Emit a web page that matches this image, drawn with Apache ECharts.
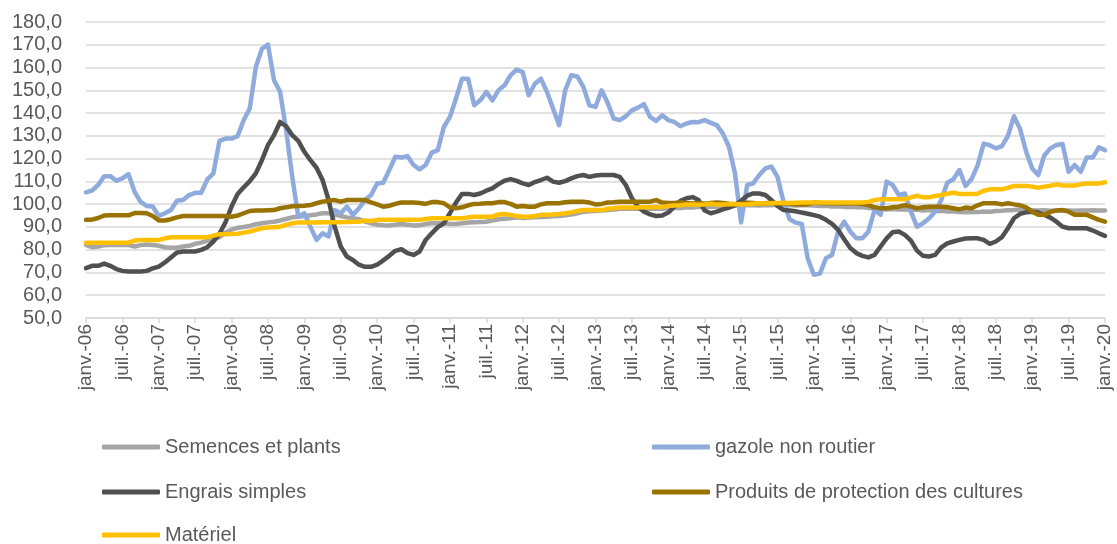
<!DOCTYPE html>
<html lang="fr">
  <head>
    <meta charset="UTF-8" />
    <title>Indices des prix</title>
    <script src="https://cdn.jsdelivr.net/npm/echarts@6/dist/echarts.min.js"></script>
    <style>
      html,
      body {
        margin: 0;
        padding: 0;
        background: #ffffff;
      }
      #chart {
        width: 1117px;
        height: 544px;
      }
    </style>
  </head>
  <body>
    <div id="chart"></div>
    <script>
      // categories : mois de janv.-06 a janv.-20
      const monthNames = ["janv.", "févr.", "mars", "avr.", "mai", "juin", "juil.", "août", "sept.", "oct.", "nov.", "déc."];
      const years = ["06", "07", "08", "09", "10", "11", "12", "13", "14", "15", "16", "17", "18", "19", "20"];

      const semences = [
        82.1, 81.1, 81.4, 82, 82.1, 82.1, 82.1, 82.1, 81.4, 82, 82.3, 82.1, 81.7, 81.1, 80.9, 80.9, 81.4, 81.7, 82.6, 83.1, 84, 84.6, 85.5, 87.5,
        88.8, 89.6, 90, 90.4, 91.2, 91.6, 92, 92.3, 92.8, 93.5, 94.2, 94.5, 94.8, 95.1, 95.5, 96, 96, 95.5, 94.8, 94.2, 93.8, 93.4, 92.3, 91.6,
        91, 90.7, 90.6, 91, 91.3, 91, 90.6, 90.7, 91.3, 91.6, 91.6, 91.6, 91.3, 91.3, 91.6, 91.9, 92, 92.2, 92.3, 92.8, 93.4, 93.6, 93.8, 94.2,
        93.9, 94.1, 94.2, 94.4, 94.5, 94.7, 94.8, 95.1, 95.4, 96, 96.6, 96.9, 97, 97.2, 97.4, 97.6, 98, 98, 98, 98, 98, 98, 98, 98,
        98.2, 98.4, 98.3, 98.6, 98.5, 98.8, 98.7, 99, 98.9, 99.2, 99.1, 99.3, 99.4, 99.6, 99.5, 99.4, 99.6, 99.5, 99.7, 99.5, 99.6, 99.4, 99.5, 99.5,
        99.4, 99.2, 99.3, 99, 99.1, 98.8, 98.9, 98.6, 98.7, 98.3, 98.1, 98, 97.7, 97.9, 97.6, 97.8, 97.4, 97.6, 97.2, 97.4, 97, 97.1, 96.8, 96.9,
        96.6, 96.4, 96.6, 96.5, 96.8, 96.7, 97, 97.1, 97.3, 97.4, 97.6, 97.4, 97.3, 97.2, 97.3, 97.1, 97.2, 97.3, 97.2, 97.1, 97.2, 97.2, 97.3, 97.2, 97.2
      ];

      const gazole = [
        105.2, 106, 108.4, 112.3, 112.3, 110.3, 111.3, 113.2, 105.5, 101, 99.2, 99, 94.8, 96, 97.4, 101.5, 101.8, 104, 105, 105, 110.9, 113.5, 127.8, 128.8,
        128.8, 129.9, 136.9, 142, 160.2, 168.2, 170.1, 154.4, 149.3, 132.5, 112, 94.5, 96, 90, 84.3, 87.2, 85.8, 97.4, 96, 98.9, 95.3, 98.2, 101.8, 104,
        109.1, 109.4, 115, 120.8, 120.5, 121.1, 117.2, 115.3, 117.2, 122.6, 123.7, 133.9, 138.3, 146.4, 155.1, 155.1, 143.4, 145.6, 149.3, 145.6, 150, 152.2, 156.6, 159.1,
        158, 147.8, 152.9, 155.1, 149.3, 142, 134.7, 150, 156.6, 156.1, 151.5, 143.4, 142.7, 150, 144.5, 137.6, 136.9, 138.6, 141.2, 142.4, 143.9, 138.3, 136.6, 139,
        136.9, 136.1, 134.2, 135.4, 136.1, 136, 136.9, 135.7, 134.7, 131, 125.2, 113.5, 92, 108.4, 109.1, 112.8, 115.7, 116.5, 112, 101, 93.4, 91.9, 91.3, 76,
        69, 69.5, 76.3, 77.7, 88, 92.3, 88, 85, 85, 88, 97.4, 95.3, 109.9, 108.4, 104, 104.7, 96.7, 90.1, 91.6, 93.8, 96.7, 101.8, 109.4, 110.9,
        115, 108, 111, 117, 126.6, 125.9, 124.5, 125.5, 130, 138.6, 133, 123, 115.7, 112.8, 121.5, 124.5, 126, 126.4, 114.2, 117.2, 114.2, 120.5, 120.5, 125, 123.7
      ];

      const engrais = [
        71.9, 72.9, 72.9, 73.9, 72.9, 71.5, 70.7, 70.4, 70.4, 70.4, 70.7, 71.8, 72.6, 74.4, 76.6, 78.8, 79.2, 79.2, 79.2, 79.9, 81.1, 83.6, 87, 92,
        99, 104.5, 107.4, 110.1, 113.5, 119.3, 125.9, 130.3, 136.1, 134.2, 130.3, 127.8, 123, 119.3, 116, 110.6, 101.8, 90.1, 81.4, 77, 75.5, 73.4, 72.5, 72.5,
        73.4, 75.3, 77.3, 79.5, 80.2, 78.5, 77.7, 79.2, 84.3, 87.2, 89.9, 91.6, 96, 100.7, 104.5, 104.5, 104, 104.7, 105.9, 106.9, 108.8, 110.3, 111, 110.2,
        109.1, 108.4, 109.7, 110.6, 111.6, 109.9, 109.4, 110.1, 111.3, 112.3, 112.8, 112, 112.6, 112.8, 112.8, 112.8, 112, 108.4, 102.6, 98.9, 96.7, 95.5, 94.8, 95,
        96.3, 98.9, 101.5, 102.6, 103.1, 101.8, 97.2, 96, 96.7, 97.7, 98.5, 99.6, 101.5, 103.7, 104.7, 104.7, 104, 101.8, 99.2, 97.4, 97.2, 96.9, 96.3, 95.8,
        95.2, 94.5, 93.1, 91.3, 88.7, 84.6, 80.7, 78.5, 77.3, 76.6, 77.7, 81.4, 85, 87.7, 88, 86.5, 84, 79.6, 77.3, 77, 77.7, 81, 82.8, 83.6,
        84.3, 84.9, 85, 85, 84.3, 82.6, 83.6, 85.5, 89.4, 93.8, 95.7, 96.4, 96.7, 96.3, 95.3, 94.1, 92.3, 90.1, 89.4, 89.4, 89.4, 89.4, 88.4, 87.2, 86.1
      ];

      const protection = [
        93.1, 93.2, 93.9, 95, 95.1, 95.1, 95.1, 95.1, 96.1, 96.1, 96, 94.8, 92.8, 92.8, 93.4, 94.2, 94.8, 94.8, 94.8, 94.8, 94.8, 94.8, 94.8, 94.8,
        94.5, 95, 96, 97, 97.2, 97.2, 97.3, 97.4, 98.2, 98.6, 99.1, 99.2, 99.3, 99.6, 100.4, 101.1, 101.5, 101.8, 101.1, 101.8, 101.8, 101.8, 101.8, 100.8,
        99.9, 98.9, 99.3, 100.1, 100.7, 100.7, 100.7, 100.5, 100.1, 100.9, 100.9, 100.4, 98.6, 98.2, 98.6, 99.5, 100.1, 100.2, 100.4, 100.4, 100.9, 100.9, 100.1, 98.9,
        99.2, 98.9, 98.9, 99.9, 100.4, 100.4, 100.4, 100.8, 101.1, 101.1, 101.1, 100.7, 99.9, 100.1, 100.7, 100.8, 101.1, 101.1, 101.1, 101.1, 101.1, 101.1, 101.8, 100.7,
        100.5, 100.5, 100.8, 100.5, 100.3, 100.5, 100.2, 100.5, 100.7, 100.5, 100.2, 100, 100.3, 100.6, 100.5, 100.2, 100.4, 100.6, 100.3, 100.4, 100.2, 100, 99.8, 100,
        100.7, 100.5, 100.4, 100.4, 100.4, 100.3, 100.4, 100.4, 100.1, 99.6, 98.6, 98.2, 98.2, 98.6, 98.9, 99.6, 98.9, 98.2, 98.6, 98.9, 98.9, 98.9, 98.6, 98.2,
        97.7, 98.5, 98.2, 99.5, 100.4, 100.4, 100.4, 99.9, 100.4, 99.9, 99.5, 98.6, 96.7, 95.3, 95.3, 96.6, 97.2, 97.4, 96.7, 95.3, 95.3, 95.3, 94.2, 93.1, 92.3
      ];

      const materiel = [
        83.1, 83.1, 83.1, 83.1, 83.1, 83.1, 83.1, 83.1, 84, 84.3, 84.3, 84.3, 84.3, 85, 85.5, 85.5, 85.5, 85.5, 85.5, 85.5, 85.5, 86.2, 86.8, 86.8,
        86.9, 87, 87.5, 88, 88.7, 89.4, 89.7, 89.9, 90.1, 90.9, 91.6, 91.9, 91.9, 91.9, 91.9, 92, 92, 92, 92.1, 92.2, 92.3, 92.3, 92.8, 92.6,
        93.1, 93.1, 93.1, 93.1, 93.1, 93.1, 93.1, 93.1, 93.5, 93.8, 93.8, 93.8, 93.8, 93.8, 93.8, 94.2, 94.5, 94.5, 94.5, 94.5, 95.5, 95.7, 95.3, 94.8,
        94.5, 94.5, 94.8, 95.3, 95.4, 95.5, 95.7, 96, 96.4, 97, 97.4, 97.4, 97.4, 97.4, 98, 98.2, 98.5, 98.5, 98.5, 98.5, 98.6, 98.6, 98.7, 98.8,
        99.2, 99.4, 99.5, 99.9, 99.9, 99.7, 99.9, 100.2, 99.8, 99.9, 100, 100.1, 99.9, 100, 100.2, 100.4, 100.3, 100.4, 100.5, 100.6, 100.5, 100.6, 100.7, 100.7,
        100.7, 100.7, 100.7, 100.7, 100.7, 100.7, 100.7, 100.7, 100.7, 101, 101.8, 102.1, 102.1, 102.1, 102.1, 102.1, 103, 103.7, 103, 103, 103.6, 104, 104.6, 105,
        104.5, 104.5, 104.5, 104.6, 105.9, 106.5, 106.5, 106.5, 107.2, 108, 108, 108, 107.7, 107.2, 107.7, 108.1, 108.7, 108.2, 108.2, 108.2, 108.7, 109.1, 109.1, 109.1, 109.6
      ];

      const months = [];
      years.forEach((y, i) => {
        monthNames.forEach((m, j) => {
          if (i < years.length - 1 || j === 0) months.push(m + "-" + y);
        });
      });

      const font = "'Liberation Sans', Arial, sans-serif";
      const textColor = "#595959";

      function lineSeries(name, data, color) {
        return {
          name: name,
          type: "line",
          data: data,
          symbol: "none",
          lineStyle: { width: 4.5, color: color, cap: "round", join: "round" },
          itemStyle: { color: color },
        };
      }

      // une entree de legende par case (grille 2 colonnes x 3 lignes)
      function legendItem(name, left, top) {
        return {
          data: [name],
          left: left,
          top: top,
          padding: 0,
          itemWidth: 58,
          itemHeight: 5,
          icon: "roundRect",
          textStyle: { fontFamily: font, fontSize: 20, color: textColor, lineHeight: 20 },
        };
      }

      const chart = echarts.init(document.getElementById("chart"));

      chart.setOption({
        animation: false,
        textStyle: { fontFamily: font },
        grid: { left: 86, right: 12, top: 22, bottom: 226 },
        legend: [
          legendItem("Semences et plants", 102, 437),
          legendItem("gazole non routier", 652, 437),
          legendItem("Engrais simples", 102, 482),
          legendItem("Produits de protection des cultures", 652, 482),
          legendItem("Matériel", 102, 525),
        ],
        xAxis: {
          type: "category",
          data: months,
          boundaryGap: false,
          axisLine: { lineStyle: { color: "#D9D9D9", width: 1.5 } },
          axisTick: {
            show: true,
            interval: 5,
            length: 5,
            lineStyle: { color: "#D9D9D9", width: 1.5 },
          },
          axisLabel: {
            interval: 5,
            rotate: 90,
            margin: 6,
            fontFamily: font,
            fontSize: 19,
            color: textColor,
          },
          splitLine: { show: false },
        },
        yAxis: {
          type: "value",
          min: 50,
          max: 180,
          interval: 10,
          axisLine: { show: false },
          axisTick: { show: false },
          axisLabel: {
            margin: 24,
            fontFamily: font,
            fontSize: 20,
            color: textColor,
            formatter: (v) => v.toFixed(1).replace(".", ","),
          },
          splitLine: { lineStyle: { color: "#D9D9D9", width: 1.5 } },
        },
        series: [
          lineSeries("Semences et plants", semences, "#A5A5A5"),
          lineSeries("gazole non routier", gazole, "#8FAADC"),
          lineSeries("Engrais simples", engrais, "#505050"),
          lineSeries("Produits de protection des cultures", protection, "#997300"),
          lineSeries("Matériel", materiel, "#FFC000"),
        ],
      });
    </script>
  </body>
</html>
